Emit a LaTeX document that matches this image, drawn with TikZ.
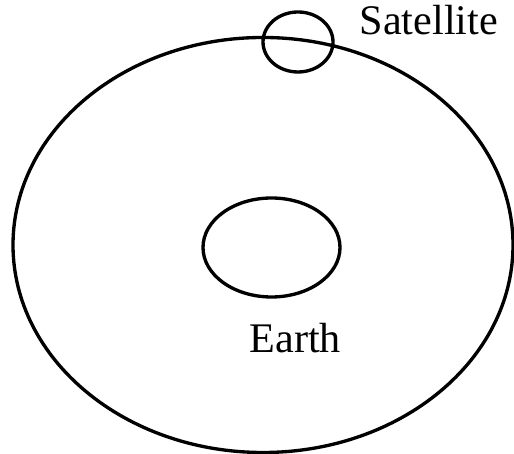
\documentclass[tikz,border=0pt]{standalone}
\usepackage{fontspec}
\setmainfont{Liberation Serif}
\usepackage{tikz}

\begin{document}
\begin{tikzpicture}[line width=0.95pt, every node/.style={inner sep=0pt, font=\fontsize{12}{14}\selectfont}]
     \useasboundingbox (0,0) rectangle (5.14,4.54);

     \draw (2.63, 2.09) ellipse [x radius=2.50, y radius=2.075];
     \draw (2.715, 2.065) ellipse [x radius=0.685, y radius=0.495];
     \draw (2.98, 4.12) ellipse [x radius=0.35, y radius=0.30];

     \node[anchor=base west] (satlabel) at (3.58, 4.19) {Satellite};
     \node[anchor=base west] (earthlabel) at (2.48, 1.01) {Earth};
   \end{tikzpicture}
\end{document}
